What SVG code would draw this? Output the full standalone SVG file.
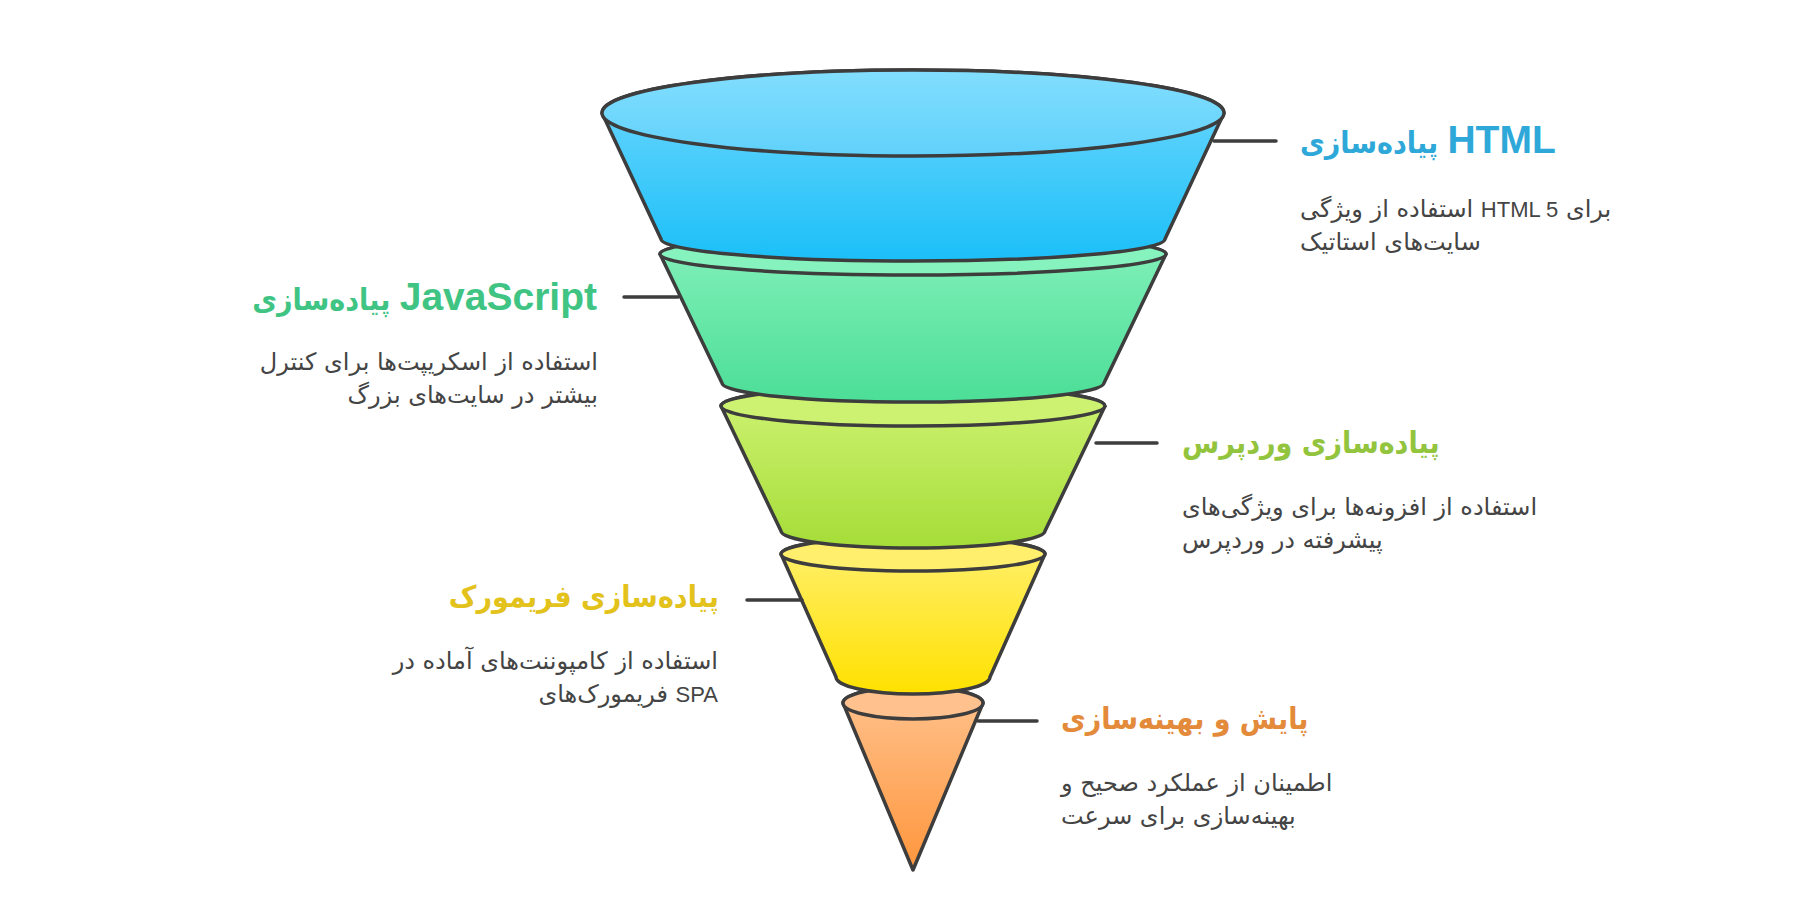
<svg xmlns="http://www.w3.org/2000/svg" width="1820" height="912" viewBox="0 0 1820 912">
<style>
.seg{stroke:#3d3d3d;stroke-width:3.5;stroke-linejoin:round;stroke-linecap:round}
.con{stroke:#3d3d3d;stroke-width:3.5;fill:none;stroke-linecap:round}
.ttl{font-family:"DejaVu Sans Condensed","DejaVu Sans",sans-serif;font-weight:bold;font-size:30px}
.lat{font-family:"Liberation Sans","Roboto",sans-serif;font-weight:bold;font-size:39px}
.dsc{font-family:"DejaVu Sans",sans-serif;font-size:24px;fill:#444444}
.dl{font-family:"Liberation Sans","Roboto",sans-serif;font-size:22px}
</style>
<defs>
<linearGradient id="gBlue" x1="0" y1="0" x2="0" y2="1"><stop offset="0" stop-color="#72d8fd"/><stop offset="1" stop-color="#1bbff8"/></linearGradient>
<linearGradient id="gBlueT" x1="0" y1="0" x2="0" y2="1"><stop offset="0" stop-color="#82defe"/><stop offset="1" stop-color="#60d1fb"/></linearGradient>
<linearGradient id="gGreen" x1="0" y1="0" x2="0" y2="1"><stop offset="0" stop-color="#84f1bb"/><stop offset="1" stop-color="#4cde97"/></linearGradient>
<linearGradient id="gYG" x1="0" y1="0" x2="0" y2="1"><stop offset="0" stop-color="#d0f374"/><stop offset="1" stop-color="#a5dd38"/></linearGradient>
<linearGradient id="gYel" x1="0" y1="0" x2="0" y2="1"><stop offset="0" stop-color="#fff071"/><stop offset="1" stop-color="#ffe100"/></linearGradient>
<linearGradient id="gOr" x1="0" y1="0" x2="0" y2="1"><stop offset="0" stop-color="#ffc28d"/><stop offset="1" stop-color="#ff963d"/></linearGradient>
</defs>
<rect width="1820" height="912" fill="#ffffff"/>

<g transform="translate(-4,0)">
<g id="node-optimize">
<path class="seg" fill="url(#gOr)" d="M847,703 L917,870 L987,703 A70,16 0 0 0 847,703 Z"/>
<ellipse class="seg" cx="917" cy="703" rx="70" ry="16" fill="#ffc28f"/>
</g>
<g id="node-framework">
<path class="seg" fill="url(#gYel)" d="M785,554 L840,677 A77,17 0 0 0 994,677 L1049,554 A132,17 0 0 0 785,554 Z"/>
<ellipse class="seg" cx="917" cy="554" rx="132" ry="17" fill="#ffef6c"/>
</g>
<g id="node-wordpress">
<path class="seg" fill="url(#gYG)" d="M725,406 L785,531 A132,17 0 0 0 1049,531 L1109,406 A192,20 0 0 0 725,406 Z"/>
<ellipse class="seg" cx="917" cy="406" rx="192" ry="20" fill="#cdf271"/>
</g>
<g id="node-javascript">
<path class="seg" fill="url(#gGreen)" d="M664,254 L726,383 A191,19 0 0 0 1108,383 L1170,254 A253,21 0 0 0 664,254 Z"/>
<ellipse class="seg" cx="917" cy="254" rx="253" ry="21" fill="#86f2bd"/>
</g>
<g id="node-html">
<path class="seg" fill="url(#gBlue)" d="M606,113 L665,239 A252,22 0 0 0 1169,239 L1228,113 A311,43 0 0 0 606,113 Z"/>
<ellipse class="seg" cx="917" cy="113" rx="311" ry="43" fill="url(#gBlueT)"/>
</g>
</g>

<g id="connectors">
<line class="con" x1="1214" y1="141" x2="1276" y2="141"/>
<line class="con" x1="624" y1="297" x2="678" y2="297"/>
<line class="con" x1="1096" y1="443" x2="1157" y2="443"/>
<line class="con" x1="747" y1="600" x2="802" y2="600"/>
<line class="con" x1="978" y1="721" x2="1037" y2="721"/>
</g>

<g id="label-html">
<text class="ttl" x="1300" y="153" fill="#2ea8d8" direction="ltr" text-anchor="start">پیاده‌سازی <tspan class="lat">HTML</tspan></text>
<text class="dsc" x="1300" y="217" direction="ltr" text-anchor="start">استفاده از ویژگی <tspan class="dl">HTML 5</tspan> برای</text>
<text class="dsc" x="1300" y="250" direction="ltr" text-anchor="start">سایت‌های استاتیک</text>
</g>
<g id="label-javascript">
<text class="ttl" x="597" y="310" fill="#3fc484" direction="ltr" text-anchor="end">پیاده‌سازی <tspan class="lat">JavaScript</tspan></text>
<text class="dsc" x="598" y="370" direction="ltr" text-anchor="end">استفاده از اسکریپت‌ها برای کنترل</text>
<text class="dsc" x="598" y="403" direction="ltr" text-anchor="end">بیشتر در سایت‌های بزرگ</text>
</g>
<g id="label-wordpress">
<text class="ttl" x="1182" y="453" fill="#93c43e" direction="ltr" text-anchor="start">پیاده‌سازی وردپرس</text>
<text class="dsc" x="1182" y="515" direction="ltr" text-anchor="start">استفاده از افزونه‌ها برای ویژگی‌های</text>
<text class="dsc" x="1182" y="548" direction="ltr" text-anchor="start">پیشرفته در وردپرس</text>
</g>
<g id="label-framework">
<text class="ttl" x="719" y="607" fill="#e2c21b" direction="ltr" text-anchor="end">پیاده‌سازی فریمورک</text>
<text class="dsc" x="718" y="669" direction="ltr" text-anchor="end">استفاده از کامپوننت‌های آماده در</text>
<text class="dsc" x="718" y="702" direction="ltr" text-anchor="end">فریمورک‌های <tspan class="dl">SPA</tspan></text>
</g>
<g id="label-optimize">
<text class="ttl" x="1061" y="729" fill="#e38a3b" direction="ltr" text-anchor="start">پایش و بهینه‌سازی</text>
<text class="dsc" x="1061" y="791" direction="ltr" text-anchor="start">اطمینان از عملکرد صحیح و</text>
<text class="dsc" x="1061" y="824" direction="ltr" text-anchor="start">بهینه‌سازی برای سرعت</text>
</g>
</svg>
